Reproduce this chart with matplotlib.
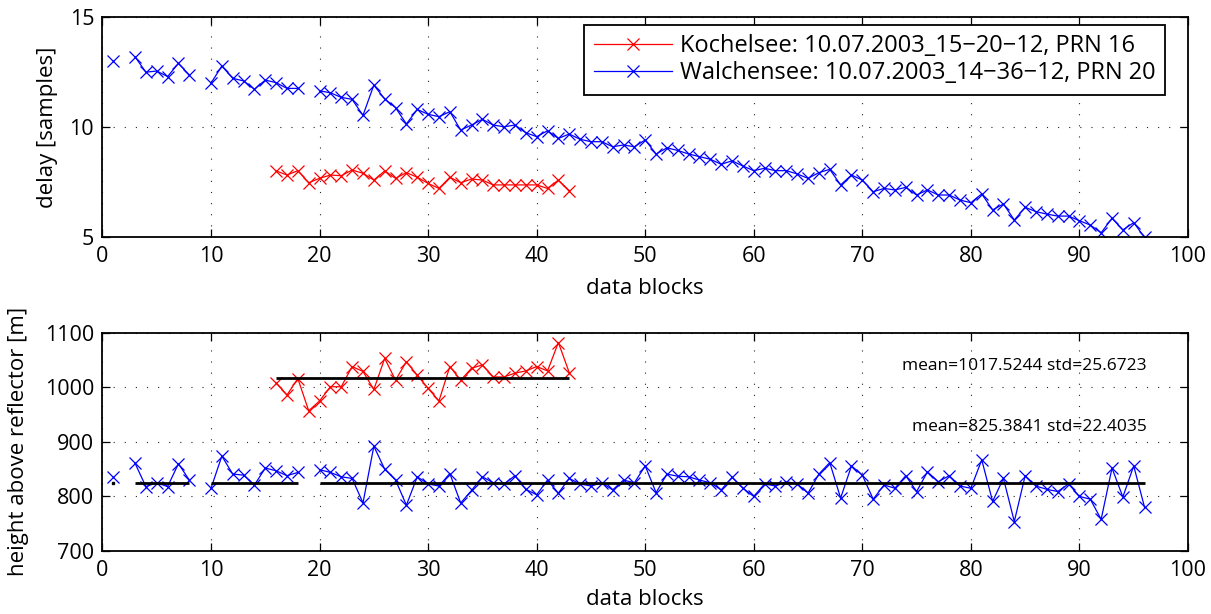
import numpy as np
import matplotlib
matplotlib.use("Agg")
import matplotlib.pyplot as plt

plt.rcParams['font.family'] = ['Open Sans', 'DejaVu Sans']

nan = np.nan

# Walchensee: data blocks 1..96 (gaps at 2, 9, 19)
walchensee_blocks = np.arange(1, 97)
walchensee_delay = [
    13.0, nan, 13.2, 12.5, 12.55, 12.3, 12.9, 12.37, nan, 12.0,
    12.78, 12.22, 12.1, 11.72, 12.14, 12.02, 11.76, 11.76, nan, 11.65,
    11.56, 11.35, 11.26, 10.53, 11.91, 11.28, 10.88, 10.14, 10.8, 10.58,
    10.47, 10.7, 9.86, 10.09, 10.35, 10.09, 10.01, 10.09, 9.74, 9.56,
    9.83, 9.48, 9.68, 9.44, 9.33, 9.33, 9.1, 9.18, 9.1, 9.41,
    8.77, 9.05, 8.93, 8.77, 8.65, 8.53, 8.3, 8.46, 8.22, 8.01,
    8.12, 8.01, 8.01, 7.86, 7.66, 7.92, 8.07, 7.36, 7.81, 7.58,
    7.05, 7.2, 7.13, 7.25, 6.9, 7.13, 6.9, 6.9, 6.67, 6.55,
    6.95, 6.22, 6.49, 5.76, 6.34, 6.14, 6.03, 5.94, 5.94, 5.73,
    5.53, 5.18, 5.84, 5.31, 5.64, 4.97,
]
walchensee_height = [
    836, nan, 861, 818, 825, 818, 860, 830, nan, 815,
    874, 841, 839, 821, 852, 847, 838, 844, nan, 849,
    844, 836, 833, 788, 892, 850, 830, 784, 836, 823,
    819, 842, 788, 811, 836, 825, 823, 838, 813, 803,
    830, 806, 833, 823, 819, 825, 812, 830, 825, 856,
    807, 841, 837, 836, 830, 825, 812, 835, 815, 800,
    823, 819, 827, 823, 806, 841, 862, 797, 856, 839,
    795, 821, 815, 838, 809, 845, 827, 838, 819, 815,
    867, 791, 833, 754, 838, 819, 813, 809, 823, 800,
    795, 758, 852, 799, 856, 780,
]

# Kochelsee: data blocks 16..43
kochelsee_blocks = np.arange(16, 44)
kochelsee_delay = [
    8.0, 7.81, 8.01, 7.46, 7.66, 7.81, 7.78, 8.04, 7.89, 7.58,
    8.0, 7.66, 7.92, 7.71, 7.43, 7.2, 7.71, 7.46, 7.63, 7.58,
    7.36, 7.36, 7.36, 7.36, 7.36, 7.2, 7.58, 7.1,
]
kochelsee_height = [
    1008, 986, 1016, 957, 975, 1001, 1001, 1038, 1029, 996,
    1053, 1013, 1047, 1022, 998, 975, 1038, 1013, 1035, 1041,
    1019, 1019, 1026, 1030, 1038, 1030, 1082, 1027,
]

kochelsee_label = "Kochelsee: 10.07.2003_15\u221220\u221212, PRN 16"
walchensee_label = "Walchensee: 10.07.2003_14\u221236\u221212, PRN 20"

kochelsee_mean, kochelsee_std = 1017.5244, 25.6723
walchensee_mean, walchensee_std = 825.3841, 22.4035

x_ticks = np.arange(0, 101, 10)
delay_ticks = [5, 10, 15]
height_ticks = [700, 800, 900, 1000, 1100]

FS = 15.5
LABEL_FS = 16
LEGEND_FS = 17
line_kw = dict(marker='x', markersize=9, markeredgewidth=0.9, linewidth=0.9)


def style_axes(ax):
    for s in ax.spines.values():
        s.set_linewidth(1.3)
    ax.tick_params(direction='in', length=6, width=0.9, top=True, right=True,
                   labelsize=FS)
    ax.tick_params(axis='y', pad=6)
    ax.tick_params(axis='x', pad=6.5)
    ax.grid(True, color='0.15', linestyle=(0, (1, 9)), linewidth=0.8)
    ax.set_axisbelow(True)


def segments(blocks, values):
    vals = np.asarray(values, dtype=float)
    segs, cur = [], []
    for b, v in zip(blocks, vals):
        if np.isnan(v):
            if cur:
                segs.append(cur)
            cur = []
        else:
            cur.append(b)
    if cur:
        segs.append(cur)
    return segs


fig = plt.figure(figsize=(12.11, 6.14), dpi=100)
ax1 = fig.add_axes([0.0846, 0.6145, 0.8964, 0.3573])
ax2 = fig.add_axes([0.0846, 0.1026, 0.8964, 0.3555])

# delay plot
ax1.plot(kochelsee_blocks, kochelsee_delay, color='red', label=kochelsee_label, **line_kw)
ax1.plot(walchensee_blocks, walchensee_delay, color='blue', label=walchensee_label, **line_kw)
ax1.set_xlim(0, 100)
ax1.set_ylim(5, 15)
ax1.set_xticks(x_ticks)
ax1.set_yticks(delay_ticks)
style_axes(ax1)
ax1.set_xlabel("data blocks", fontsize=LABEL_FS, labelpad=8)
ax1.set_ylabel("delay [samples]", fontsize=LABEL_FS, labelpad=8)
leg = ax1.legend(loc='upper right', bbox_to_anchor=(0.9788, 0.965),
                 fontsize=LEGEND_FS, frameon=True, fancybox=False,
                 borderpad=0.4, handlelength=3.3, labelspacing=0.12,
                 handletextpad=0.35, borderaxespad=0.0)
leg.get_frame().set_edgecolor('black')
leg.get_frame().set_linewidth(1.3)
leg.get_frame().set_alpha(1)

# height plot
ax2.plot(kochelsee_blocks, kochelsee_height, color='red', **line_kw)
ax2.plot(walchensee_blocks, walchensee_height, color='blue', **line_kw)
for seg in segments(kochelsee_blocks, kochelsee_height):
    ax2.plot([seg[0], seg[-1]], [kochelsee_mean] * 2, color='black', linewidth=2.0,
             solid_capstyle='butt')
for seg in segments(walchensee_blocks, walchensee_height):
    if len(seg) > 1:
        ax2.plot([seg[0], seg[-1]], [walchensee_mean] * 2, color='black', linewidth=2.0,
                 solid_capstyle='butt')
    else:
        ax2.plot(seg, [walchensee_mean], marker='s', markersize=1.5, color='black')
ax2.text(96.2, 1039, f"mean={kochelsee_mean:.4f} std={kochelsee_std:.4f}",
         fontsize=12.5, ha='right', va='center')
ax2.text(96.2, 928, f"mean={walchensee_mean:.4f} std={walchensee_std:.4f}",
         fontsize=12.5, ha='right', va='center')
ax2.set_xlim(0, 100)
ax2.set_ylim(700, 1100)
ax2.set_xticks(x_ticks)
ax2.set_yticks(height_ticks)
style_axes(ax2)
ax2.set_xlabel("data blocks", fontsize=LABEL_FS, labelpad=6)
ax2.set_ylabel("height above reflector [m]", fontsize=LABEL_FS, labelpad=11)

fig.savefig("out.png", dpi=100)
